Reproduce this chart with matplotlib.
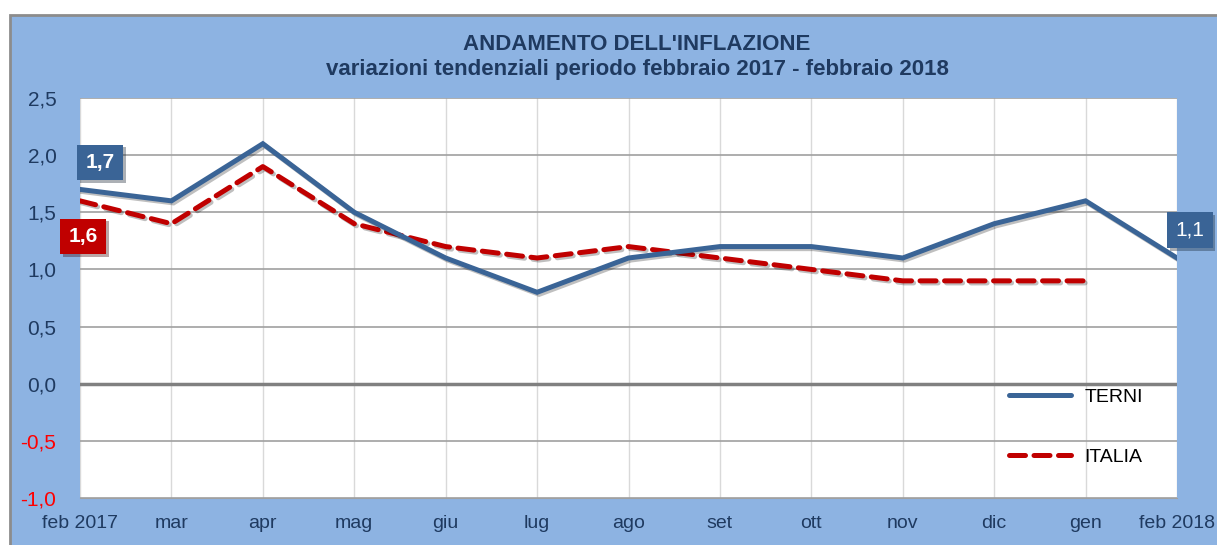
import matplotlib.pyplot as plt
import matplotlib.patheffects as pe
from matplotlib.patches import Rectangle
from matplotlib.lines import Line2D

plt.rcParams['font.family'] = ['Liberation Sans', 'DejaVu Sans']

# dati
mesi = ['feb 2017', 'mar', 'apr', 'mag', 'giu', 'lug', 'ago', 'set',
        'ott', 'nov', 'dic', 'gen', 'feb 2018']
terni = [1.7, 1.6, 2.1, 1.5, 1.1, 0.8, 1.1, 1.2, 1.2, 1.1, 1.4, 1.6, 1.1]
italia = [1.6, 1.4, 1.9, 1.4, 1.2, 1.1, 1.2, 1.1, 1.0, 0.9, 0.9, 0.9]
y_ticks = [-1.0, -0.5, 0.0, 0.5, 1.0, 1.5, 2.0, 2.5]

BLU = '#3A6496'
ROSSO = '#C00000'
SFONDO = '#8DB3E2'
TESTO = '#1F3A60'

fig = plt.figure(figsize=(12.17, 5.45), dpi=100)
fig.patch.set_facecolor('white')

# cornice esterna
fig.patches.append(Rectangle((10 / 1217, -0.01), 1.0, 1 - 15 / 545 + 0.01,
                             transform=fig.transFigure, facecolor=SFONDO,
                             edgecolor='#8C8C8C', linewidth=2, zorder=-5))

ax = fig.add_axes([80 / 1217, 1 - 498 / 545, (1177 - 80) / 1217, 400 / 545])
ax.set_facecolor('white')

x = list(range(len(mesi)))
ombra = [pe.SimpleLineShadow(offset=(1.5, -1.5), alpha=0.25), pe.Normal()]

ax.plot(x, terni, color=BLU, lw=3.6, zorder=4,
        solid_joinstyle='miter', path_effects=ombra)
ax.plot(x[:len(italia)], italia, color=ROSSO, lw=3.6,
        dashes=(3.2, 1.7), dash_capstyle='round', zorder=3, path_effects=ombra)

ax.set_xlim(0, len(mesi) - 1)
ax.set_ylim(-1.0, 2.5)
ax.set_yticks(y_ticks)
ax.set_yticklabels([f'{v:.1f}'.replace('.', ',') for v in y_ticks], fontsize=15)
for lab, v in zip(ax.get_yticklabels(), y_ticks):
    lab.set_color('#FF0000' if v < 0 else TESTO)
ax.set_xticks(x)
ax.set_xticklabels(mesi, fontsize=14, color=TESTO)
ax.tick_params(length=0)
ax.tick_params(axis='y', pad=17)
ax.tick_params(axis='x', pad=12)

ax.grid(axis='y', color='#A0A0A0', lw=1.2, zorder=1)
ax.grid(axis='x', color='#D9D9D9', lw=1.0, zorder=1)
ax.axhline(0, color='#808080', lw=2.5, zorder=2)
for s in ax.spines.values():
    s.set_visible(False)
ax.spines['bottom'].set_visible(True)
ax.spines['bottom'].set_color('#A0A0A0')

# etichette valori
box_ombra = [pe.withSimplePatchShadow(offset=(2, -2), alpha=0.35)]
t = ax.text(0.22, 1.936, '1,7', color='white', fontsize=15, fontweight='bold',
            ha='center', va='center', zorder=6, clip_on=False,
            bbox=dict(boxstyle='square,pad=0.4', fc=BLU, ec='none'))
t.get_bbox_patch().set_path_effects(box_ombra)
t = ax.text(0.035, 1.288, '1,6', color='white', fontsize=15, fontweight='bold',
            ha='center', va='center', zorder=6, clip_on=False,
            bbox=dict(boxstyle='square,pad=0.4', fc=ROSSO, ec='none'))
t.get_bbox_patch().set_path_effects(box_ombra)
t = ax.text(12.14, 1.345, '1,1', color='white', fontsize=15,
            ha='center', va='center', zorder=6, clip_on=False,
            bbox=dict(boxstyle='square,pad=0.4', fc=BLU, ec='none'))
t.get_bbox_patch().set_path_effects(box_ombra)

# legenda senza ombra
handles = [Line2D([], [], color=BLU, lw=3.6, solid_capstyle='round'),
           Line2D([], [], color=ROSSO, lw=3.6, dashes=(3.2, 1.7),
                  dash_capstyle='round')]
ax.legend(handles, ['TERNI', 'ITALIA'], loc='center right',
          bbox_to_anchor=(0.0, 0.0, 0.985, 0.355),
          frameon=False, fontsize=14, handlelength=3.2, labelspacing=2.2,
          handletextpad=0.7)

fig.text(637 / 1217, 1 - 45 / 545, "ANDAMENTO DELL'INFLAZIONE", ha='center',
         va='center', fontsize=16, fontweight='bold', color=TESTO)
fig.text(637 / 1217, 1 - 70 / 545,
         'variazioni tendenziali periodo febbraio 2017 - febbraio 2018',
         ha='center', va='center', fontsize=16, fontweight='bold', color=TESTO)

fig.savefig('out.png', dpi=100)
